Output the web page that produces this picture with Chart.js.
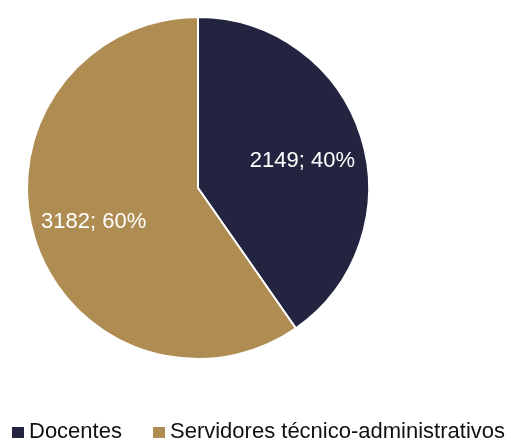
<!DOCTYPE html>
<html>
<head>
<meta charset="utf-8">
<script src="https://cdn.jsdelivr.net/npm/chart.js@4"></script>
<style>
  html, body { margin:0; padding:0; background:#fff; }
  #wrap { position:relative; width:511px; height:442px; }
  #legend { position:absolute; left:0; top:420px; width:511px; height:22px; font-family:'Liberation Sans', Arial, sans-serif; font-size:22px; color:#111; }
  #legend .it { position:absolute; top:0; line-height:22px; white-space:nowrap; }
  #legend .sw { display:inline-block; width:12px; height:11px; margin-right:5px; vertical-align:0px; }
</style>
</head>
<body>
<div id="wrap">
  <canvas id="pie" width="511" height="442"></canvas>
  <div id="legend"></div>
</div>
<script>
// Servidores por categoria
const labels = ['Docentes', 'Servidores técnico-administrativos'];
const values = [2149, 3182];
const percents = [40, 60];
const colors = ['#23243f', '#af8c52'];

// legenda em HTML
const legendX = [12, 153];
let lh = '';
labels.forEach((l, i) => {
  lh += `<div class="it" style="left:${legendX[i]}px"><span class="sw" style="background:${colors[i]}"></span>${l}</div>`;
});
document.getElementById('legend').innerHTML = lh;

// rótulos "valor; %" dentro das fatias
const nudgeY = [6, 1];
const sliceLabels = {
  id: 'sliceLabels',
  afterDatasetsDraw(chart) {
    const ctx = chart.ctx;
    const meta = chart.getDatasetMeta(0);
    ctx.save();
    ctx.fillStyle = '#fff';
    ctx.font = '22px "Liberation Sans", Arial, sans-serif';
    ctx.textAlign = 'center';
    ctx.textBaseline = 'middle';
    meta.data.forEach((arc, i) => {
      const mid = (arc.startAngle + arc.endAngle) / 2;
      const r = arc.outerRadius * 0.64;
      const x = arc.x + Math.cos(mid) * r;
      const y = arc.y + Math.sin(mid) * r + nudgeY[i];
      ctx.fillText(values[i] + '; ' + percents[i] + '%', x, y);
    });
    ctx.restore();
  }
};

new Chart(document.getElementById('pie'), {
  type: 'pie',
  data: { labels, datasets: [{ data: values, backgroundColor: colors, borderColor: '#fff', borderWidth: 2 }] },
  options: {
    responsive: false,
    animation: false,
    layout: { padding: { left: 26, top: 16, right: 141, bottom: 82 } },
    plugins: { legend: { display: false }, tooltip: { enabled: false } }
  },
  plugins: [sliceLabels]
});
</script>
</body>
</html>
